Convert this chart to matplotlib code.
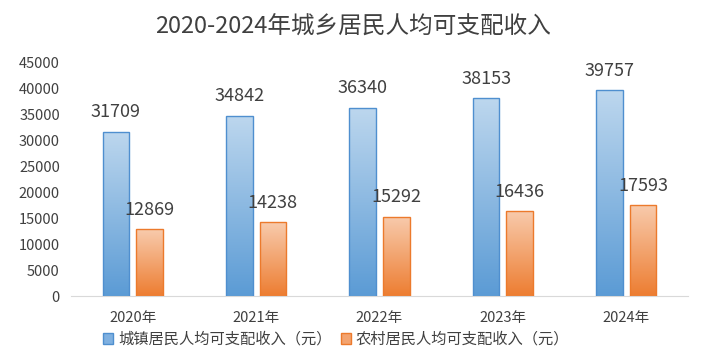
import matplotlib
matplotlib.use("Agg")
import matplotlib.pyplot as plt
import numpy as np
from matplotlib.colors import LinearSegmentedColormap

plt.rcParams['font.family'] = ['Noto Sans CJK SC', 'DejaVu Sans']

years = ["2020年", "2021年", "2022年", "2023年", "2024年"]
urban = [31709, 34842, 36340, 38153, 39757]
rural = [12869, 14238, 15292, 16436, 17593]
series_names = ["城镇居民人均可支配收入（元）", "农村居民人均可支配收入（元）"]
title = "2020-2024年城乡居民人均可支配收入"

fig = plt.figure(figsize=(7.07, 3.62), dpi=100)
ax = fig.add_axes([71/707, 1-296/362, (688-71)/707, (296-63)/362])

x = np.arange(len(years))
w = 0.215
off = 0.136

blue_cmap = LinearSegmentedColormap.from_list("b", ["#5b9bd5", "#bdd7ee"])
orange_cmap = LinearSegmentedColormap.from_list("o", ["#ed7d31", "#f8cbad"])

def grad_bars(xs, vals, cmap, edge):
    bars = ax.bar(xs, vals, width=w, color='none', edgecolor=edge, linewidth=1.0, zorder=3)
    grad = np.linspace(0, 1, 256).reshape(-1, 1)
    for b in bars:
        bx, by = b.get_x(), b.get_y()
        bw, bh = b.get_width(), b.get_height()
        im = ax.imshow(grad, cmap=cmap, aspect='auto', origin='lower',
                       extent=[bx, bx + bw, by, by + bh], zorder=2)
        im.set_clip_path(b)
    return bars

b1 = grad_bars(x - off, urban, blue_cmap, "#4f8fcf")
b2 = grad_bars(x + off, rural, orange_cmap, "#ec7a2c")

txt = "#404040"
for xi, v in zip(x - off, urban):
    ax.text(xi, v + 2000, f"{v}", ha='center', va='bottom', fontsize=13, color=txt)
for xi, v in zip(x + off, rural):
    ax.text(xi, v + 2000, f"{v}", ha='center', va='bottom', fontsize=13, color=txt)

ax.set_xlim(-0.5, len(years) - 0.5)
ax.set_ylim(0, 45000)
ax.set_yticks(np.arange(0, 45001, 5000))
ax.set_xticks(x)
ax.set_xticklabels(years)
ax.tick_params(axis='both', length=0, labelsize=10.5, colors=txt)
ax.tick_params(axis='x', pad=11)
ax.tick_params(axis='y', pad=8)
for s in ['top', 'right', 'left']:
    ax.spines[s].set_visible(False)
ax.spines['bottom'].set_color('#d9d9d9')
ax.set_facecolor('none')

fig.suptitle(title, x=0.5, y=1-27/362, va='center', fontsize=17, color=txt)

from matplotlib.patches import Patch
handles = [Patch(facecolor="#7fb0e0", edgecolor="#4f8fcf"),
           Patch(facecolor="#f3a36f", edgecolor="#ec7a2c")]
fig.legend(handles, series_names, loc='center', bbox_to_anchor=(336/707, 1-339/362),
           ncol=2, frameon=False, fontsize=11, handlelength=0.7, handleheight=0.7,
           handletextpad=0.3, columnspacing=0.6, labelcolor=txt)

fig.savefig("out.png", dpi=100)
